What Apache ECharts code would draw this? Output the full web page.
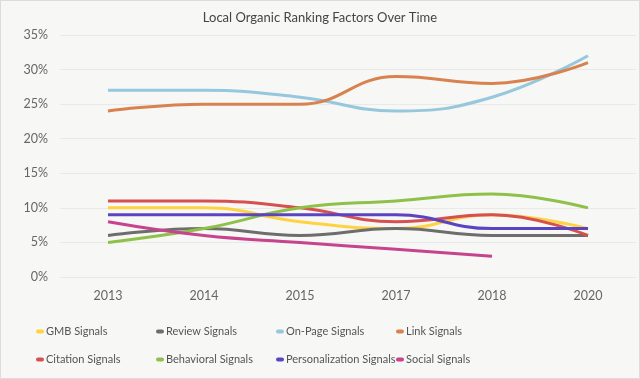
<!DOCTYPE html>
<html><head><meta charset="utf-8">
<script src="https://cdn.jsdelivr.net/npm/echarts@6/dist/echarts.min.js"></script>
<style>html,body{margin:0;padding:0;background:#f7f7f5;}#c{width:638px;height:377px;border:1px solid #dcdcdc;background:#f7f7f5;}</style>
</head><body><div id="c"></div>
<script>
const years = ['2013','2014','2015','2017','2018','2020'];
const gmb = [10,10,8,7,9,7];
const review = [6,7,6,7,6,6];
const onPage = [27,27,26,24,26,32];
const link = [24,25,25,29,28,31];
const citation = [11,11,10,8,9,6];
const behavioral = [5,7,10,11,12,10];
const personalization = [9,9,9,9,7,7];
const social = [8,6,5,4,3,null];
const yTicks = [0,5,10,15,20,25,30,35];

const seriesDefs = [
  ['GMB Signals', gmb, '#fdd343'],
  ['Review Signals', review, '#6d6d6d'],
  ['On-Page Signals', onPage, '#97c7dc'],
  ['Link Signals', link, '#d8834f'],
  ['Citation Signals', citation, '#d5504f'],
  ['Behavioral Signals', behavioral, '#8fc14a'],
  ['Personalization Signals', personalization, '#5a44c2'],
  ['Social Signals', social, '#c6448d']
];
const font = 'Lato';
const legends = seriesDefs.map((s, i) => ({
  left: 30 + (i % 4) * 120, top: i < 4 ? 325 : 353, padding: 0,
  data: [s[0]], itemWidth: 0, itemHeight: 4, icon: 'none',
  formatter: '{i| }{t|{name}}',
  textStyle: {fontFamily: font, fontSize: 11, color: '#555',
    rich: {
      i: {width: 8, height: 4, backgroundColor: s[2], borderRadius: 2, verticalAlign: 'middle', fontSize: 4, lineHeight: 4},
      t: {fontFamily: font, fontSize: 11, color: '#555', padding: [0,0,0,2], verticalAlign: 'middle', lineHeight: 14}
    }}
}));
const chart = echarts.init(document.getElementById('c'));
chart.setOption({
  backgroundColor: '#f7f7f5',
  animation: false,
  title: {text: 'Local Organic Ranking Factors Over Time', left: 'center', top: 5,
    textStyle: {fontFamily: font, fontSize: 13, fontWeight: 'normal', color: '#444'}},
  legend: legends,
  grid: {left: 59, right: 3, top: 34, bottom: 101},
  xAxis: {type: 'category', data: years, boundaryGap: true,
    axisLine: {show: false}, axisTick: {show: false},
    axisLabel: {fontFamily: font, fontSize: 12.5, color: '#666', margin: 12}},
  yAxis: {type: 'value', min: 0, max: 35, interval: 5,
    axisLabel: {fontFamily: font, fontSize: 12.5, color: '#666', margin: 12,
      formatter: v => yTicks.includes(v) ? v + '%' : ''},
    splitLine: {lineStyle: {color: '#e9e9e7', width: 1}}},
  series: seriesDefs.map(([name, data, color]) => ({
    name, type: 'line', data, smooth: 0.45, symbol: 'none', connectNulls: false,
    color, lineStyle: {width: 3, color}
  }))
});
</script></body></html>
